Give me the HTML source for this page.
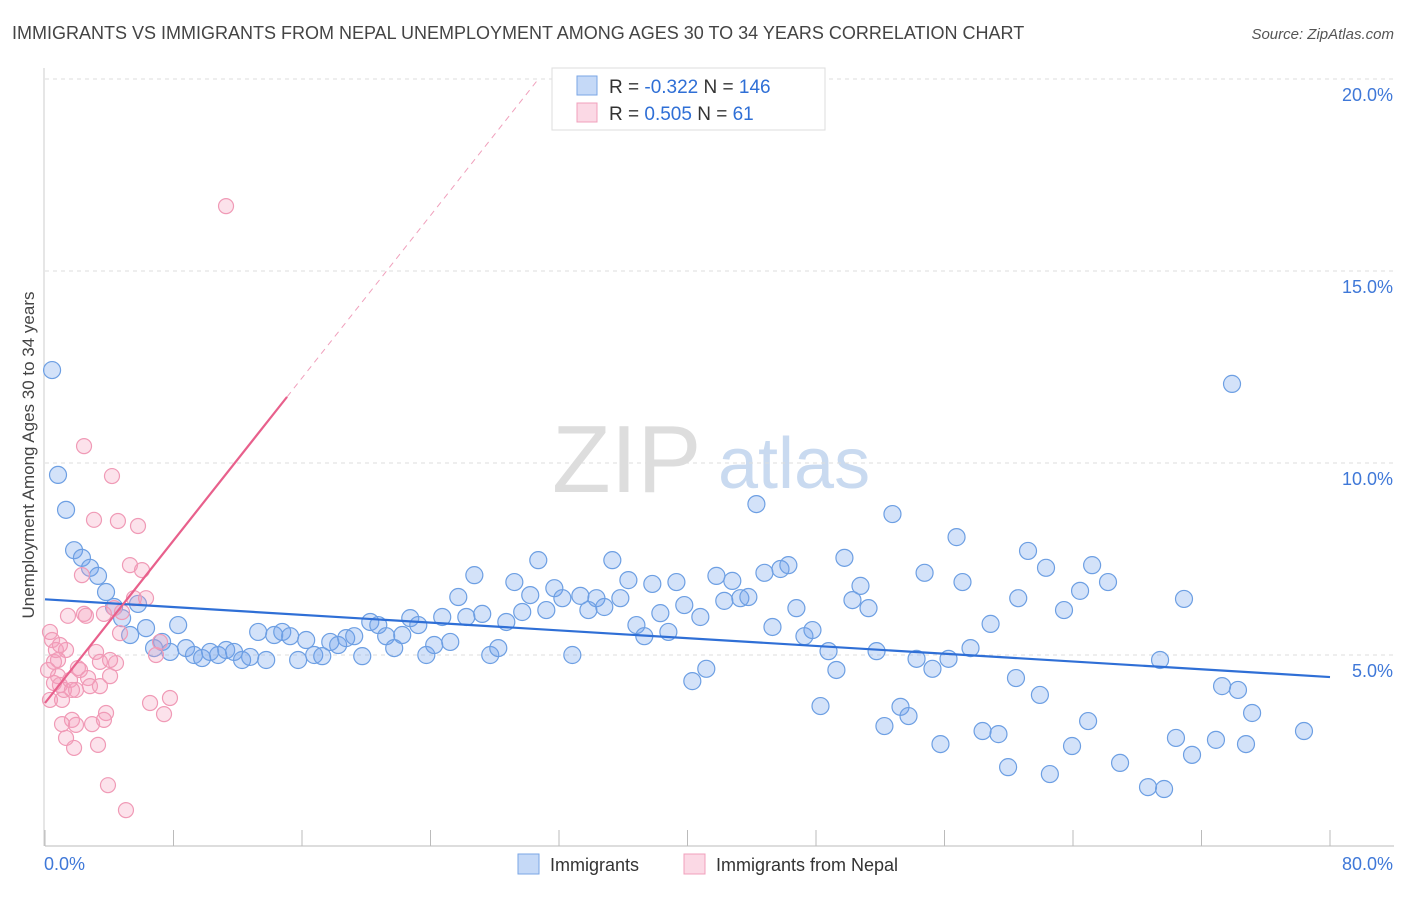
<!DOCTYPE html>
<html><head><meta charset="utf-8"><style>
body{margin:0;background:#fff;font-family:"Liberation Sans",sans-serif;}
svg text{font-family:"Liberation Sans",sans-serif;}
</style></head><body>
<svg id="chart" width="1406" height="892" xmlns="http://www.w3.org/2000/svg">
<text x="12" y="39" font-size="18" fill="#444">IMMIGRANTS VS IMMIGRANTS FROM NEPAL UNEMPLOYMENT AMONG AGES 30 TO 34 YEARS CORRELATION CHART</text>
<text x="1394" y="39" font-size="15" fill="#555" font-style="italic" text-anchor="end">Source: ZipAtlas.com</text>
<g>
<text x="552" y="492" font-size="96" font-family="Liberation Serif" fill="#ddd">ZIP</text>
<text x="718" y="488" font-size="72" fill="#c9daf0">atlas</text>
</g>
<g id="grid"></g>
<g id="axes"></g>
<g id="marks"></g>
<g id="lines"></g>
<text transform="translate(34,455) rotate(-90)" font-size="17" fill="#444" text-anchor="middle">Unemployment Among Ages 30 to 34 years</text>
<g>
<rect x="552" y="68" width="273" height="62" fill="#fff" stroke="#ddd"/>
<rect x="577" y="76" width="20" height="19" fill="rgba(110,160,235,0.4)" stroke="#7aa6e6"/>
<rect x="577" y="103" width="20" height="19" fill="rgba(245,160,190,0.4)" stroke="#f0a0bc"/>
<text x="609" y="93" font-size="19" fill="#333">R = <tspan fill="#2f6fd6">-0.322</tspan>    N = <tspan fill="#2f6fd6">146</tspan></text>
<text x="609" y="120" font-size="19" fill="#333">R = <tspan fill="#2f6fd6"> 0.505</tspan>    N =   <tspan fill="#2f6fd6"> 61</tspan></text>
</g>
<g>
<rect x="518" y="854" width="21" height="20" fill="rgba(110,160,235,0.4)" stroke="#7aa6e6"/>
<text x="550" y="871" font-size="18" fill="#333">Immigrants</text>
<rect x="684" y="854" width="21" height="20" fill="rgba(245,160,190,0.4)" stroke="#f0a0bc"/>
<text x="716" y="871" font-size="18" fill="#333">Immigrants from Nepal</text>
</g>
</svg>
<script>
const xTickLabels=["0.0%","80.0%"];
const yTicks=[5,10,15,20];
const yTickLabels=["5.0%","10.0%","15.0%","20.0%"];
const blueX=[0.44,0.81,1.31,1.81,2.30,2.80,3.30,3.80,4.30,4.80,5.30,5.79,6.29,6.79,7.29,7.79,8.29,8.78,9.28,9.78,10.28,10.78,11.28,11.77,12.27,12.77,13.27,13.77,14.27,14.77,15.26,15.76,16.26,16.76,17.26,17.76,18.25,18.75,19.25,19.75,20.25,20.75,21.24,21.74,22.24,22.74,23.24,23.74,24.23,24.73,25.23,25.73,26.23,26.73,27.22,27.72,28.22,28.72,29.22,29.71,30.21,30.71,31.21,31.71,32.21,32.83,33.33,33.83,34.33,34.82,35.32,35.82,36.32,36.82,37.31,37.81,38.31,38.81,39.31,39.80,40.30,40.80,41.17,41.80,42.29,42.79,43.29,43.79,44.29,44.79,45.29,45.79,46.28,46.78,47.28,47.78,48.28,48.78,49.27,49.77,50.27,50.77,51.27,51.77,52.26,52.76,53.26,53.76,54.26,54.76,55.25,55.75,56.25,56.75,57.12,57.62,58.37,58.87,59.36,59.96,60.45,60.59,61.20,61.94,62.32,62.56,63.44,63.94,64.44,64.94,65.19,66.18,66.93,68.67,69.42,69.67,70.41,70.91,71.41,72.90,73.28,73.90,74.27,74.77,75.15,78.38];
const blueY=[12.42,9.69,8.78,7.73,7.53,7.27,7.06,6.64,6.25,5.96,5.52,6.33,5.70,5.18,5.34,5.08,5.78,5.18,5.00,4.92,5.08,5.00,5.13,5.08,4.87,4.95,5.60,4.87,5.52,5.60,5.49,4.87,5.39,5.00,4.97,5.34,5.26,5.44,5.49,4.97,5.86,5.78,5.49,5.18,5.52,5.96,5.78,5.00,5.26,5.99,5.34,6.51,5.99,7.08,6.07,5.00,5.18,5.86,6.90,6.12,6.56,7.47,6.17,6.74,6.48,5.00,6.54,6.17,6.48,6.25,7.47,6.48,6.95,5.78,5.49,6.85,6.09,5.60,6.90,6.30,4.32,5.99,4.64,7.06,6.41,6.93,6.48,6.51,8.93,7.14,5.73,7.24,7.34,6.22,5.49,5.65,3.67,5.10,4.61,7.53,6.43,6.80,6.22,5.10,3.15,8.67,3.65,3.41,4.90,7.14,4.64,2.68,4.90,8.07,6.90,5.18,3.02,5.81,2.94,2.08,4.40,6.48,7.71,3.96,7.27,1.90,6.17,2.63,6.67,3.28,7.34,6.90,2.19,1.56,4.87,1.51,2.84,6.46,2.40,2.79,4.19,12.06,4.09,2.68,3.49,3.02];
const pinkX=[0.31,0.44,0.56,0.68,0.81,0.93,1.06,1.18,1.31,1.43,1.56,1.68,1.81,1.93,2.05,2.18,2.30,2.43,2.55,2.68,2.80,3.05,3.18,3.30,3.42,3.67,3.80,3.92,4.05,4.17,4.30,4.42,4.54,4.67,4.79,5.04,5.29,5.54,5.79,6.04,6.29,6.54,6.91,7.16,7.41,7.78,11.27,2.43,0.81,1.06,1.31,1.68,1.93,2.93,3.42,3.67,4.05,0.31,0.56,0.19,0.93];
const pinkY=[5.60,5.39,4.82,5.13,4.45,4.22,3.83,4.09,5.13,6.02,4.35,3.31,2.58,4.09,4.66,4.61,7.08,6.07,6.02,4.40,4.19,8.52,5.08,2.66,4.82,6.07,3.49,1.61,4.45,9.66,6.22,4.79,8.49,5.57,6.12,0.96,7.34,6.48,8.36,7.21,6.48,3.75,5.00,5.34,3.46,3.88,16.69,10.44,4.87,3.20,2.84,4.09,3.18,3.20,4.19,3.31,4.87,3.83,4.27,4.61,5.26];
const blueTrend=[6.45,-0.0253];
const pinkTrend=[3.75,0.529];
const pinkSolidEnd=15.07, pinkDashEnd=30.7;

const NS="http://www.w3.org/2000/svg";
const X0=45,X1=1330,Y0=847,YPX=38.4;
const sx=v=>X0+(v/80)*(X1-X0);
const sy=v=>Y0-v*YPX;
function mk(tag,attrs,parent){const e=document.createElementNS(NS,tag);for(const k in attrs)e.setAttribute(k,attrs[k]);parent.appendChild(e);return e;}
const grid=document.getElementById('grid'),axes=document.getElementById('axes'),marks=document.getElementById('marks'),lines=document.getElementById('lines');
yTicks.forEach((t,i)=>{
 const g=mk('line',{x1:45,x2:1394,y1:sy(t),y2:sy(t),stroke:'#ddd','stroke-dasharray':'4,4'},grid);
 
 
 const l=mk('text',{x:1393,y:sy(t)+22,'font-size':18,fill:'#3f78d8','text-anchor':'end'},axes);
 l.textContent=yTickLabels[i];
 
 
});
const ax=mk('line',{x1:45,x2:1394,y1:846,y2:846,stroke:'#bbb'},axes);


const ay=mk('line',{x1:44,x2:44,y1:68,y2:846,stroke:'#ccc'},axes);


for(let i=0;i<=10;i++){
 const t=mk('line',{x1:sx(i*8),x2:sx(i*8),y1:830,y2:846,stroke:'#bbb'},axes);
 
 
}
const xl0=mk('text',{x:44,y:870,'font-size':18,fill:'#3f78d8'},axes);xl0.textContent=xTickLabels[0];


const xl1=mk('text',{x:1393,y:870,'font-size':18,fill:'#3f78d8','text-anchor':'end'},axes);xl1.textContent=xTickLabels[1];


blueX.forEach((x,i)=>{
 const c=mk('circle',{cx:sx(x),cy:sy(blueY[i]),r:8.5,fill:'rgba(110,160,235,0.3)',stroke:'#6d9fe3','stroke-width':1.2},marks);
 
 
});
pinkX.forEach((x,i)=>{
 const c=mk('circle',{cx:sx(x),cy:sy(pinkY[i]),r:7.5,fill:'rgba(245,160,190,0.3)',stroke:'#f09ab6','stroke-width':1.2},marks);
 
 
});
const bl=mk('line',{x1:sx(0),y1:sy(blueTrend[0]),x2:sx(80),y2:sy(blueTrend[0]+blueTrend[1]*80),stroke:'#2f6fd6','stroke-width':2.2},lines);


const pl=mk('line',{x1:sx(0),y1:sy(pinkTrend[0]),x2:sx(pinkSolidEnd),y2:sy(pinkTrend[0]+pinkTrend[1]*pinkSolidEnd),stroke:'#e8608c','stroke-width':2.2},lines);


const pd=mk('line',{x1:sx(pinkSolidEnd),y1:sy(pinkTrend[0]+pinkTrend[1]*pinkSolidEnd),x2:sx(pinkDashEnd),y2:sy(pinkTrend[0]+pinkTrend[1]*pinkDashEnd),stroke:'#f0a0bc','stroke-width':1,'stroke-dasharray':'6,5'},lines);


</script>
</body></html>
